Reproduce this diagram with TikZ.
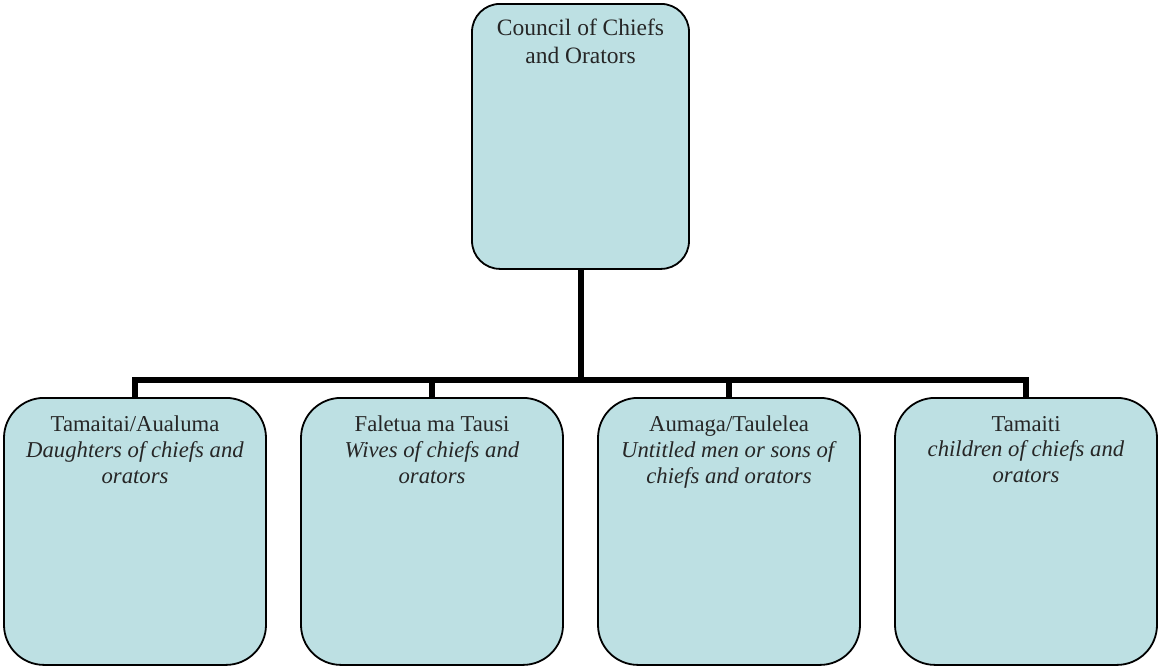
\documentclass[tikz,border=0pt]{standalone}
\usepackage{fontspec}
\setmainfont{Liberation Serif}
\definecolor{boxfill}{HTML}{BDE0E3}
\definecolor{textgray}{HTML}{262626}
\begin{document}
\begin{tikzpicture}[x=1pt,y=-1pt,
  box/.style={draw=black, line width=1.8pt, fill=boxfill, rounded corners=40pt,
    minimum width=262pt, minimum height=267pt, anchor=north, inner sep=0pt},
  topbox/.style={box, rounded corners=28pt, minimum width=217pt, minimum height=265pt},
  txt/.style={anchor=north, align=center, text=textgray, inner sep=0pt,
    font=\fontsize{22.7}{25.7}\selectfont},
  toptxt/.style={txt, font=\fontsize{23.5}{27.7}\selectfont},
  conn/.style={draw=black, line width=6pt}]
\useasboundingbox (0,0) rectangle (1158,667);

\node[topbox] (top) at (580.5,3) {};
\node[box] (b1) at (135,397) {};
\node[box] (b2) at (432,397) {};
\node[box] (b3) at (729,397) {};
\node[box] (b4) at (1026,397) {};

\coordinate (hub) at (580.5,380);
\foreach \b in {b1,b2,b3,b4}
  \draw[conn] (top.south) -- (hub) -| (\b.north);

\node[toptxt] (ttop) at ([yshift=-16pt]top.north) {Council of Chiefs\\and Orators};
\node[txt] (t1) at ([yshift=-19pt]b1.north) {Tamaitai/Aualuma\\\textit{Daughters of chiefs and}\\\textit{orators}};
\node[txt] (t2) at ([yshift=-19pt]b2.north) {Faletua ma Tausi\\\textit{Wives of chiefs and}\\\textit{orators}};
\node[txt] (t3) at ([yshift=-19pt]b3.north) {Aumaga/Taulelea\\\textit{Untitled men or sons of}\\\textit{chiefs and orators}};
\node[txt] (t4) at ([yshift=-19pt]b4.north) {Tamaiti\\\textit{children of chiefs and}\\\textit{orators}};
\end{tikzpicture}
\end{document}
